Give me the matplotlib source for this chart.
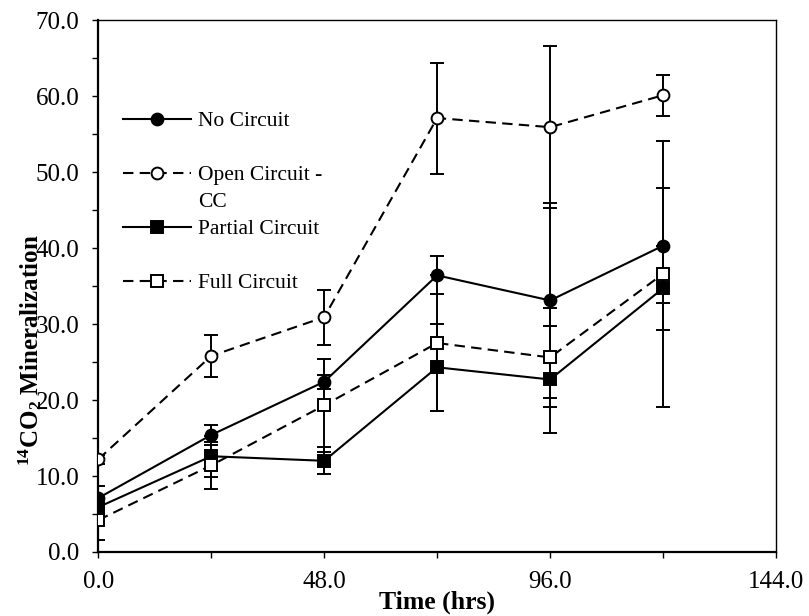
import matplotlib
matplotlib.use("Agg")
import matplotlib.pyplot as plt
from matplotlib.ticker import MultipleLocator, FormatStrFormatter

# sampling times (hrs)
time = [0, 24, 48, 72, 96, 120]

# 14CO2 mineralization, mean and error per series
no_circuit = [7.1, 15.4, 22.4, 36.4, 33.1, 40.3]
no_circuit_err = [1.6, 1.3, 0.9, 2.5, 12.8, 7.6]
open_cc = [12.2, 25.8, 30.9, 57.1, 55.9, 60.1]
open_cc_err = [0.6, 2.8, 3.6, 7.3, 10.7, 2.7]
partial = [5.9, 12.6, 12.0, 24.3, 22.7, 34.7]
partial_err = [1.2, 2.7, 1.8, 5.7, 7.0, 5.5]
full = [4.2, 11.4, 19.3, 27.5, 25.6, 36.6]
full_err = [2.6, 3.1, 6.1, 8.9, 6.5, 17.5]

labels = ["No Circuit", "Open Circuit -", "Partial Circuit", "Full Circuit"]

plt.rcParams["font.family"] = ["Liberation Serif", "DejaVu Serif"]
plt.rcParams["mathtext.fontset"] = "custom"
plt.rcParams["mathtext.rm"] = "Liberation Serif"
plt.rcParams["mathtext.it"] = "Liberation Serif:italic"
plt.rcParams["mathtext.bf"] = "Liberation Serif:bold"

fig = plt.figure(figsize=(8.09, 6.16), dpi=100)
ax = fig.add_axes([0.1215, 0.1039, 0.8377, 0.8636])

dash = (0, (5, 3))
series = [
    (no_circuit, no_circuit_err, "o", "black", "-"),
    (open_cc, open_cc_err, "o", "white", dash),
    (partial, partial_err, "s", "black", "-"),
    (full, full_err, "s", "white", dash),
]
handles = []
for (vals, err, mk, face, ls), lab in zip(series, labels):
    ax.errorbar(time, vals, yerr=err, fmt="none", ecolor="black",
                elinewidth=1.4, capsize=4.7, capthick=1.4, zorder=2)
    h, = ax.plot(time, vals, marker=mk, ms=8.5, mfc=face, mec="black", mew=1.4,
                 color="black", lw=1.5, ls=ls, label=lab, zorder=3)
    handles.append(h)

ax.set_xlim(0, 144)
ax.set_ylim(0, 70)
ax.xaxis.set_major_locator(MultipleLocator(48))
ax.xaxis.set_minor_locator(MultipleLocator(24))
ax.yaxis.set_major_locator(MultipleLocator(10))
ax.yaxis.set_minor_locator(MultipleLocator(5))
ax.xaxis.set_major_formatter(FormatStrFormatter("%.1f"))
ax.yaxis.set_major_formatter(FormatStrFormatter("%.1f"))
ax.tick_params(which="both", direction="out", length=4.5, width=1.0,
               labelsize=18, pad=9)
for s in ("left", "bottom"):
    ax.spines[s].set_linewidth(1.6)
for s in ("top", "right"):
    ax.spines[s].set_linewidth(1.0)

ax.set_xlabel("Time (hrs)", fontsize=18.5, fontweight="bold")
ax.xaxis.set_label_coords(0.5, -0.072)
ax.set_ylabel(r"$\mathbf{{}^{14}CO_{2}}$ Mineralization", fontsize=18,
              fontweight="bold")
ax.yaxis.set_label_coords(-0.080, 0.38)

leg = ax.legend(handles=handles, loc="upper left", bbox_to_anchor=(0.036, 0.829),
                frameon=False, fontsize=15.5, borderpad=0, borderaxespad=0,
                handlelength=3.15, handletextpad=0.37, labelspacing=1.58)

# second line of the open-circuit label hangs below its first line
fig.canvas.draw()
bb = leg.get_texts()[1].get_window_extent()
W, H = fig.canvas.get_width_height()
fig.text(bb.x0 / W, (bb.y0 - 8) / H, "CC", va="top", ha="left", fontsize=15.5)

fig.savefig("out.png", dpi=100)
